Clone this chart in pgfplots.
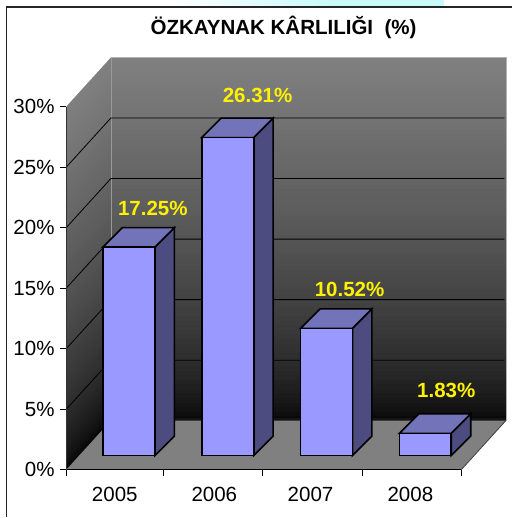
\documentclass[border=0pt]{standalone}
\usepackage{fontspec}
\setmainfont{Liberation Sans}
\usepackage{pgfplots}
\pgfplotsset{compat=1.18}
\definecolor{barfront}{RGB}{153,153,255}
\definecolor{bartop}{RGB}{115,115,185}
\definecolor{barside}{RGB}{76,76,128}
\definecolor{strip}{RGB}{200,250,250}
\newcommand{\lab}{\fontsize{15.4}{18}\selectfont}
\begin{document}
\begin{tikzpicture}
\fill[white] (-49.875pt,-35.775pt) rectangle (334.875pt,352.725pt);
\begin{axis}[
  at={(0pt,0pt)}, anchor=south west,
  x=74.175pt, y=9.075pt,
  xmin=-0.634, xmax=3.820, ymin=-1.24, ymax=32.876,
  clip=false,
  axis x line*=bottom, axis y line*=left,
  x axis line style={draw=none}, y axis line style={draw=none},
  tick align=outside, major tick length=4.9pt,
  tick style={black, line width=0.6pt},
  xtick={-0.634,0.352,1.353,2.359,3.365},
  xticklabels={,,,,},
  extra x ticks={-0.144,0.864,1.838,2.849},
  extra x tick labels={2005,2006,2007,2008},
  extra x tick style={major tick length=0pt, tick style={draw=none}},
  ytick={-1.24,3.77,8.78,13.79,18.80,23.81,28.81},
  yticklabels={0\%,5\%,10\%,15\%,20\%,25\%,30\%},
  tick label style={font=\lab},
  yticklabel style={xshift=-0.5pt},
  xticklabel style={yshift=-10pt},
]
% page
\shade[left color=white, right color=strip] (axis cs:0.4125,37.08) rectangle (axis cs:2.03,37.63);
\fill[strip] (axis cs:2.02,37.08) rectangle (axis cs:3.193,37.63);
\draw[color=black!85, line width=1.1pt] (axis cs:-1.2406,-5.182) -- (axis cs:-1.2406,37.05) -- (axis cs:3.8806,37.05);
% walls
\foreach \k in {0,...,79}{
  \pgfmathsetmacro\t{1-\k/80}
  \pgfmathsetmacro\g{100-50*\t^0.6}
  \pgfmathsetmacro\ya{2.81+30.06*\t}
  \pgfmathsetmacro\yb{-1.24+30.06*\t}
  \edef\tmp{\noexpand\fill[black!\g!white] (axis cs:-0.184,2.81) -- (axis cs:3.82,2.81) -- (axis cs:3.82,\ya) -- (axis cs:-0.184,\ya) -- cycle;
  \noexpand\fill[black!\g!white] (axis cs:-0.634,-1.24) -- (axis cs:-0.184,2.81) -- (axis cs:-0.184,\ya) -- (axis cs:-0.634,\yb) -- cycle;}
  \tmp
}
\fill[black!92] (axis cs:-0.184,2.81) rectangle (axis cs:3.82,3.0);
% wall edges
\addplot[gray!80, line width=0.5pt] coordinates {(-0.184,2.81)(-0.184,32.876)};
\addplot[gray!60, line width=0.7pt] coordinates {(-0.184,32.876)(3.82,32.876)(3.82,2.81)};
% grid
\addplot[black, line width=0.6pt] coordinates {(-0.634,3.77)(-0.184,7.82)(3.80,7.82)};
\addplot[black, line width=0.6pt] coordinates {(-0.634,8.78)(-0.184,12.83)(3.80,12.83)};
\addplot[black, line width=0.6pt] coordinates {(-0.634,13.79)(-0.184,17.84)(3.80,17.84)};
\addplot[black, line width=0.6pt] coordinates {(-0.634,18.80)(-0.184,22.85)(3.80,22.85)};
\addplot[black, line width=0.6pt] coordinates {(-0.634,23.81)(-0.184,27.86)(3.80,27.86)};
% floor
\addplot[fill=black!50, draw=none] coordinates {(-0.634,-1.24)(3.365,-1.24)(3.815,2.81)(-0.184,2.81)} -- cycle;
\addplot[black!75, line width=0.6pt] coordinates {(3.365,-1.24)(3.815,2.81)};
% axis lines
\addplot[black, line width=0.7pt] coordinates {(-0.634,-1.24)(3.365,-1.24)};
\addplot[black!80, line width=0.7pt] coordinates {(-0.634,-1.24)(-0.634,28.81)};
% bars: sides and tops
\addplot[yshift=-0.6pt, fill=barside, draw=black, line width=1.2pt] coordinates {(0.263,0)(0.46,1.61)(0.46,18.86)(0.263,17.25)} -- cycle;
\addplot[yshift=-0.6pt, fill=bartop, draw=black, line width=1.2pt] coordinates {(-0.263,17.25)(0.263,17.25)(0.46,18.86)(-0.066,18.86)} -- cycle;
\addplot[yshift=-0.6pt, fill=barside, draw=black, line width=1.2pt] coordinates {(1.263,0)(1.46,1.61)(1.46,27.92)(1.263,26.31)} -- cycle;
\addplot[yshift=-0.6pt, fill=bartop, draw=black, line width=1.2pt] coordinates {(0.737,26.31)(1.263,26.31)(1.46,27.92)(0.934,27.92)} -- cycle;
\addplot[yshift=-0.6pt, fill=barside, draw=black, line width=1.2pt] coordinates {(2.263,0)(2.46,1.61)(2.46,12.13)(2.263,10.52)} -- cycle;
\addplot[yshift=-0.6pt, fill=bartop, draw=black, line width=1.2pt] coordinates {(1.737,10.52)(2.263,10.52)(2.46,12.13)(1.934,12.13)} -- cycle;
\addplot[yshift=-0.6pt, fill=barside, draw=black, line width=1.2pt] coordinates {(3.263,0)(3.46,1.61)(3.46,3.44)(3.263,1.83)} -- cycle;
\addplot[yshift=-0.6pt, fill=bartop, draw=black, line width=1.2pt] coordinates {(2.737,1.83)(3.263,1.83)(3.46,3.44)(2.934,3.44)} -- cycle;
% bars: fronts
\addplot[yshift=-0.6pt, ybar, bar width=39pt, bar shift=0pt, fill=barfront, draw=black, line width=1.2pt] coordinates {(0,17.25)(1,26.31)(2,10.52)(3,1.83)};
% labels
\node[text=yellow, font=\lab\bfseries] at (axis cs:0.241,20.35) {17.25\%};
\node[text=yellow, font=\lab\bfseries] at (axis cs:1.302,29.77) {26.31\%};
\node[text=yellow, font=\lab\bfseries] at (axis cs:2.233,13.66) {10.52\%};
\node[text=yellow, font=\lab\bfseries] at (axis cs:3.213,5.34) {1.83\%};
\node[font=\lab\bfseries] at (axis cs:1.565,35.4) {ÖZKAYNAK KÂRLILIĞI\ \ (\%)};
\end{axis}
\end{tikzpicture}
\end{document}
